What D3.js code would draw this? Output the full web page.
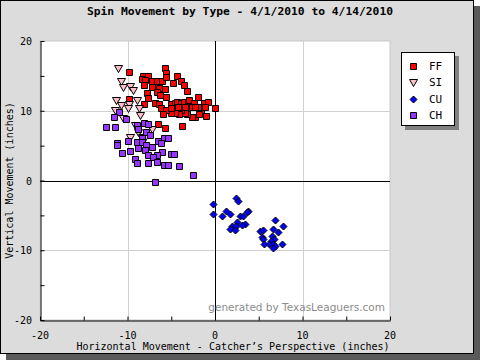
<!DOCTYPE html>
<html><head><meta charset="utf-8">
<script src="https://cdn.jsdelivr.net/npm/d3@7"></script>
<style>body{margin:0;background:#fff}svg{display:block}</style>
</head><body>
<script>
const title = "Spin Movement by Type - 4/1/2010 to 4/14/2010";
const xTicks = [-20, -10, 0, 10, 20];
const yTicks = [-20, -10, 0, 10, 20];
const pitchTypes = ["FF", "SI", "CU", "CH"];
const typeColors = ["#ff0000", "#ffc0cb", "#0000ff", "#9933ff"];

const ffX = [-9.8,-8.2,-7.7,-5.7,-5.6,-4.3,-8.3,-8.0,-7.2,-6.6,-6.1,-5.6,-8.1,-7.2,-6.4,-5.7,-4.8,-3.9,-3.5,-7.8,-6.6,-3.2,-7.7,-5.6,-9.8,-8.1,-6.9,-6.4,-6.2,-5.0,-4.6,-4.3,-3.9,-3.5,-3.1,-3.0,-2.4,-2.6,-1.9,-1.9,-1.3,-0.8,-1.1,-1.6,-1.0,-2.3,-2.6,-3.2,-3.4,-3.9,-4.1,-4.6,-5.0,-5.6,0.0,-3.8,-5.7,-6.5,-6.3,-5.0,-4.2,-3.4,-2.3,-5.9,-1.8];
const ffY = [15.6,15.0,15.0,16.1,15.4,15.0,14.6,14.4,14.3,14.3,14.3,14.8,13.7,13.4,13.2,13.1,14.0,14.3,13.7,12.5,12.7,12.8,11.8,11.9,11.7,11.0,11.1,11.0,10.4,11.0,11.1,11.3,11.1,11.3,11.3,11.5,11.1,10.5,10.5,12.0,11.1,11.3,10.5,9.7,9.2,9.1,9.1,9.5,9.7,10.1,9.5,9.7,9.7,10.1,10.4,7.8,7.5,8.1,12.3,10.4,10.5,10.5,10.5,9.5,9.5];

const siX = [-11.1,-10.7,-10.5,-9.7,-9.4,-11.3,-10.7,-9.8,-8.9,-9.9,-8.7,-11.4,-10.5,-8.6,-9.1,-7.2,-8.8,-9.7,-8.3,-8.0];
const siY = [16.1,14.3,13.4,13.5,13.0,11.5,10.8,11.0,11.5,10.4,10.4,10.1,9.0,9.4,8.0,7.4,7.0,6.2,6.2,6.2];

const cuX = [-0.2,-0.2,0.8,1.3,1.7,2.4,2.6,3.8,3.7,2.9,3.2,2.5,3.4,3.1,1.9,1.7,2.4,2.3,5.1,5.5,6.9,7.8,6.6,7.2,5.4,5.5,6.5,6.7,6.4,5.6,6.2,6.6,6.9,6.6,7.7];
const cuY = [-3.4,-4.8,-5.1,-4.4,-4.8,-2.5,-2.9,-4.4,-4.5,-5.1,-5.1,-6.0,-6.2,-6.4,-6.5,-6.9,-6.5,-7.1,-7.2,-7.1,-5.7,-6.5,-7.0,-7.4,-8.1,-8.4,-8.0,-8.4,-8.7,-9.1,-9.1,-9.1,-9.4,-9.7,-9.1];

const chX = [-11.0,-10.2,-11.5,-12.5,-11.4,-8.9,-8.1,-7.7,-8.8,-7.9,-7.4,-5.8,-5.4,-8.3,-9.9,-8.9,-8.3,-6.5,-11.2,-11.2,-7.9,-6.2,-8.8,-7.2,-8.0,-9.7,-10.6,-6.1,-5.0,-4.7,-7.7,-6.6,-7.1,-9.1,-8.9,-7.7,-6.6,-5.8,-5.4,-4.1,-2.5,-6.9];
const chY = [9.8,8.8,9.1,7.7,7.7,8.0,8.2,8.1,7.4,7.0,6.5,6.1,6.1,6.1,5.7,5.5,5.5,5.7,5.4,5.1,5.1,5.4,4.7,4.8,4.4,4.2,3.9,4.1,3.8,3.8,3.7,3.7,3.4,3.1,2.5,2.5,2.7,2.2,2.2,2.1,0.8,-0.2];

const W = 480, H = 360;
const svg = d3.select("body").append("svg").attr("width", W).attr("height", H);
const mono = "'DejaVu Sans Mono', monospace";

// frame with shadow
svg.append("rect").attr("x", 6).attr("y", 6).attr("width", 474).attr("height", 354).attr("fill", "#5a5a5a");
svg.append("rect").attr("x", 0.5).attr("y", 0.5).attr("width", 473).attr("height", 353)
  .attr("fill", "#dcdcdc").attr("stroke", "#000");

const x = d3.scaleLinear().domain([-20, 20]).range([40, 390]);
const y = d3.scaleLinear().domain([-20, 20]).range([320, 41]);

// plot area
svg.append("rect").attr("x", x(-20)).attr("y", y(20)).attr("width", x(20) - x(-20)).attr("height", y(-20) - y(20))
  .attr("fill", "#fff").attr("stroke", "#c8c8c8");

// gridlines
const g = svg.append("g");
[-10, 10].forEach(v => {
  g.append("line").attr("x1", Math.round(x(v)) + 0.5).attr("x2", Math.round(x(v)) + 0.5).attr("y1", y(20)).attr("y2", y(-20)).attr("stroke", "#d0d0d0");
  g.append("line").attr("y1", Math.round(y(v)) + 0.5).attr("y2", Math.round(y(v)) + 0.5).attr("x1", x(-20)).attr("x2", x(20)).attr("stroke", "#d0d0d0");
});

// watermark
svg.append("text").attr("x", x(20) - 5).attr("y", 311).attr("text-anchor", "end")
  .attr("font-family", "'DejaVu Sans', sans-serif").attr("font-size", 10.5).attr("fill", "#8c8c8c")
  .text("generated by TexasLeaguers.com");

// zero lines
g.append("line").attr("x1", Math.round(x(0)) + 0.5).attr("x2", Math.round(x(0)) + 0.5).attr("y1", y(20)).attr("y2", y(-20)).attr("stroke", "#000");
g.append("line").attr("y1", Math.round(y(0)) + 0.5).attr("y2", Math.round(y(0)) + 0.5).attr("x1", x(-20)).attr("x2", x(20)).attr("stroke", "#000");

// axes
const xAxis = d3.axisBottom(x).tickValues(d3.range(-20, 21, 5)).tickSizeInner(-4).tickSizeOuter(0).tickFormat("");
const yAxis = d3.axisLeft(y).tickValues(d3.range(-20, 21, 5)).tickSizeInner(-4).tickSizeOuter(0).tickFormat("");
const gx = svg.append("g").attr("transform", `translate(0,${Math.round(y(-20)) + 0.5})`).call(xAxis);
const gy = svg.append("g").attr("transform", `translate(${Math.round(x(-20)) + 0.5},0)`).call(yAxis);
[gx, gy].forEach(a => { a.selectAll("path,line").attr("stroke", "#000"); });

svg.selectAll(".xt").data(xTicks).enter().append("text").attr("class", "xt")
  .attr("x", d => x(d)).attr("y", 339).attr("text-anchor", "middle")
  .attr("font-family", mono).attr("font-size", 10).attr("fill", "#000").text(d => d);
svg.selectAll(".yt").data(yTicks).enter().append("text").attr("class", "yt")
  .attr("x", 32).attr("y", d => y(d) + 4).attr("text-anchor", "end")
  .attr("font-family", mono).attr("font-size", 10).attr("fill", "#000").text(d => d);

svg.append("text").attr("x", 233).attr("y", 350).attr("text-anchor", "middle")
  .attr("font-family", mono).attr("font-size", 10).text("Horizontal Movement - Catcher\u2019s Perspective (inches)");
svg.append("text").attr("transform", `translate(13,${y(0)}) rotate(-90)`).attr("text-anchor", "middle")
  .attr("font-family", mono).attr("font-size", 10).text("Vertical Movement (inches)");

svg.append("text").attr("x", 240).attr("y", 15).attr("text-anchor", "middle")
  .attr("font-family", mono).attr("font-size", 11.3).attr("font-weight", "bold").text(title);

// markers
const sq = d3.symbol().type(d3.symbolSquare).size(36)();
const tri = "M-4,-3L4,-3L0,4Z";
const dia = "M0,-3.5L3.5,0L0,3.5L-3.5,0Z";
const shapes = [sq, tri, dia, sq];
const series = [[ffX, ffY], [siX, siY], [cuX, cuY], [chX, chY]];
series.forEach(([xs, ys], i) => {
  svg.append("g").selectAll("path").data(xs.map((v, j) => [v, ys[j]])).enter().append("path")
    .attr("transform", d => `translate(${Math.round(x(d[0])) + 0.5},${Math.round(y(d[1])) + 0.5})`)
    .attr("d", shapes[i]).attr("fill", typeColors[i]).attr("stroke", "#000").attr("stroke-width", 1);
});

// legend
const lg = svg.append("g");
lg.append("rect").attr("x", 405).attr("y", 56).attr("width", 54).attr("height", 74).attr("fill", "#808080");
lg.append("rect").attr("x", 401.5).attr("y", 52.5).attr("width", 53).attr("height", 73).attr("fill", "#fff").attr("stroke", "#000");
pitchTypes.forEach((t, i) => {
  const cy = 66 + i * 16.3;
  lg.append("path").attr("transform", `translate(413.5,${Math.round(cy) + 0.5})`).attr("d", shapes[i])
    .attr("fill", typeColors[i]).attr("stroke", "#000");
  lg.append("text").attr("x", 429).attr("y", cy + 4).attr("font-family", mono).attr("font-size", 11).text(t);
});
</script>
</body></html>
